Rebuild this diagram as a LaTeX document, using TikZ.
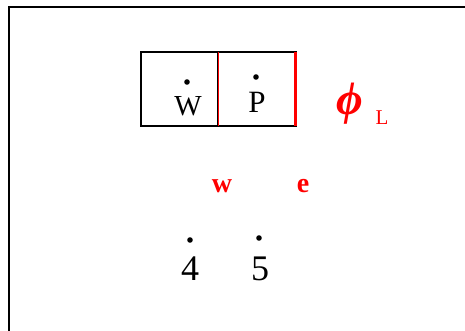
\documentclass[tikz,border=0pt]{standalone}
\usepackage{fontspec}
\setmainfont{Liberation Serif}
\tikzset{
  frame/.style={line width=2pt, black},
  cell/.style={line width=1.3pt, black},
  facew/.style={red, line width=1pt},
  facee/.style={red, line width=3pt},
  ddot/.style={fill=black, draw=none},
  lbl/.style={inner sep=0pt, anchor=base},
}
\begin{document}
\begin{tikzpicture}[x=1pt,y=-1pt]
\useasboundingbox (0,0) rectangle (465,330);
% outer frame
\draw[frame] (9,332) -- (9,7) -- (467,7);
% control volumes W and P
\draw[cell] (141,52) rectangle (218,126);
\draw[cell] (218,52) rectangle (296,126);
\draw[facew] (218,52) -- (218,126);
\draw[facee] (295,52) -- (295,126);
% node labels with dots
\node[lbl, font=\fontsize{29}{29}\selectfont] (W) at (188,115) {W};
\fill[ddot] (187,82) circle (2.8);
\node[lbl, font=\fontsize{31}{31}\selectfont] (P) at (257,112) {P};
\fill[ddot] (256,77) circle (2.8);
% boundary value
\node[lbl, red, font=\fontsize{46}{46}\bfseries\itshape\selectfont] (phi) at (350,114) {ϕ};
\node[lbl, red, font=\fontsize{21}{21}\selectfont] (L) at (382,124) {L};
% face labels
\node[lbl, red, font=\fontsize{28}{28}\bfseries\selectfont] (w) at (222,192) {w};
\node[lbl, red, font=\fontsize{28}{28}\bfseries\selectfont] (e) at (303,192) {e};
% numbered points
\node[lbl, font=\fontsize{36}{36}\selectfont] (n4) at (190,280) {4};
\fill[ddot] (190,240) circle (2.8);
\node[lbl, font=\fontsize{36}{36}\selectfont] (n5) at (260,280) {5};
\fill[ddot] (259,238) circle (2.8);
\end{tikzpicture}
\end{document}
